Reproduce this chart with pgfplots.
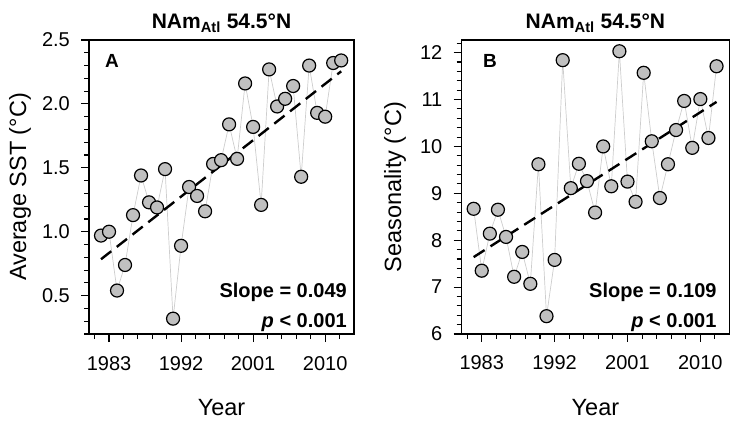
\documentclass[border=0pt]{standalone}
\usepackage{fontspec}
\setmainfont{Liberation Sans}
\usepackage{pgfplots}
\usepackage{pgfplotstable}
\pgfplotsset{compat=1.18}

\definecolor{markfill}{RGB}{192,192,192}
\definecolor{conn}{RGB}{205,205,205}

\pgfplotstableread{
year val
1982 0.97
1983 1.00
1984 0.54
1985 0.74
1986 1.13
1987 1.44
1988 1.23
1989 1.19
1990 1.49
1991 0.32
1992 0.89
1993 1.35
1994 1.28
1995 1.16
1996 1.53
1997 1.56
1998 1.84
1999 1.57
2000 2.16
2001 1.82
2002 1.21
2003 2.27
2004 1.98
2005 2.04
2006 2.14
2007 1.43
2008 2.30
2009 1.93
2010 1.90
2011 2.32
2012 2.34
}\dataA

\pgfplotstableread{
year val
1982 8.67
1983 7.35
1984 8.14
1985 8.65
1986 8.07
1987 7.22
1988 7.75
1989 7.07
1990 9.62
1991 6.38
1992 7.58
1993 11.84
1994 9.11
1995 9.63
1996 9.26
1997 8.59
1998 10.00
1999 9.15
2000 12.03
2001 9.25
2002 8.82
2003 11.57
2004 10.11
2005 8.90
2006 9.62
2007 10.35
2008 10.97
2009 9.97
2010 11.01
2011 10.18
2012 11.71
}\dataB

\pgfplotsset{
  panel/.style={
    scale only axis,
    height=294bp,
    xmin=1980.5, xmax=2013.6,
    xtick={1983,1992,2001,2010},
    minor xtick={1981.2,1984.8,1986.6,1988.4,1990.2,1993.8,1995.6,1997.4,1999.2,2002.8,2004.6,2006.4,2008.2,2011.8},
    tick align=outside, tick pos=left,
    major tick length=8bp, minor tick length=5bp,
    every tick/.style={black, line width=1.1bp},
    axis line style={line width=1.1bp},
    tick label style={font=\fontsize{20bp}{24bp}\selectfont, inner sep=0pt},
    /pgf/number format/assume math mode=true,
    xticklabel style={/pgf/number format/1000 sep={}, anchor=base},
    xticklabel shift=28bp,
    yticklabel style={anchor=east},
    yticklabel shift=11bp,
    clip=false,
  },
  conline/.style={conn, line width=0.7bp, no marks},
  dots/.style={only marks, mark=*, mark size=6.5bp, mark options={fill=markfill, draw=black, line width=1.2bp, solid}},
  trend/.style={black, line width=2.4bp, dash pattern=on 13bp off 7bp, no marks},
}

\begin{document}
\begin{tikzpicture}
\path[use as bounding box] (0,0) rectangle (734bp,423bp);

\begin{axis}[panel, at={(89bp,89bp)}, anchor=south west, width=265bp,
  ymin=0.2, ymax=2.5,
  ytick={0.5,1.0,1.5,2.0,2.5},
  minor ytick={0.2,0.3,0.4,0.6,0.7,0.8,0.9,1.1,1.2,1.3,1.4,1.6,1.7,1.8,1.9,2.1,2.2,2.3,2.4},
  yticklabel style={/pgf/number format/.cd, fixed, fixed zerofill, precision=1},
]
\addplot[conline] table[x=year, y=val] {\dataA};
\addplot[trend] coordinates {(1982,0.785) (2012,2.255)};
\addplot[dots] table[x=year, y=val] {\dataA};
\end{axis}

\begin{axis}[panel, at={(461.5bp,89bp)}, anchor=south west, width=268bp,
  ymin=6, ymax=12.27,
  ytick={6,7,8,9,10,11,12},
  minor ytick={6.2,6.4,6.6,6.8,7.2,7.4,7.6,7.8,8.2,8.4,8.6,8.8,9.2,9.4,9.6,9.8,10.2,10.4,10.6,10.8,11.2,11.4,11.6,11.8,12.2},
]
\addplot[conline] table[x=year, y=val] {\dataB};
\addplot[trend] coordinates {(1982,7.64) (2012,10.95)};
\addplot[dots] table[x=year, y=val] {\dataB};
\end{axis}

% titles
\node[anchor=base, font=\bfseries\fontsize{21bp}{25bp}\selectfont] at (221.5bp,394bp) {NAm\textsubscript{Atl} 54.5°N};
\node[anchor=base, font=\bfseries\fontsize{21bp}{25bp}\selectfont] at (595.4bp,394bp) {NAm\textsubscript{Atl} 54.5°N};
% axis labels
\node[rotate=90, anchor=base, font=\fontsize{23.5bp}{28bp}\selectfont] at (26bp,236bp) {Average SST (°C)};
\node[rotate=90, anchor=base, font=\fontsize{23.5bp}{28bp}\selectfont] at (401bp,236bp) {Seasonality (°C)};
\node[anchor=base, font=\fontsize{23.5bp}{28bp}\selectfont] at (221.5bp,8bp) {Year};
\node[anchor=base, font=\fontsize{23.5bp}{28bp}\selectfont] at (595.4bp,8bp) {Year};
% panel letters
\node[anchor=base west, inner sep=0pt, font=\bfseries\fontsize{19bp}{23bp}\selectfont] at (105bp,355bp) {A};
\node[anchor=base west, inner sep=0pt, font=\bfseries\fontsize{19bp}{23bp}\selectfont] at (483bp,355bp) {B};
% stats
\node[anchor=base east, inner sep=0pt, font=\bfseries\fontsize{20bp}{24bp}\selectfont] at (347bp,125bp) {Slope = 0.049};
\node[anchor=base east, inner sep=0pt, font=\bfseries\fontsize{20bp}{24bp}\selectfont] at (347bp,95bp) {\textit{p} < 0.001};
\node[anchor=base east, inner sep=0pt, font=\bfseries\fontsize{20bp}{24bp}\selectfont] at (716.7bp,125bp) {Slope = 0.109};
\node[anchor=base east, inner sep=0pt, font=\bfseries\fontsize{20bp}{24bp}\selectfont] at (716.7bp,95bp) {\textit{p} < 0.001};
\end{tikzpicture}
\end{document}
